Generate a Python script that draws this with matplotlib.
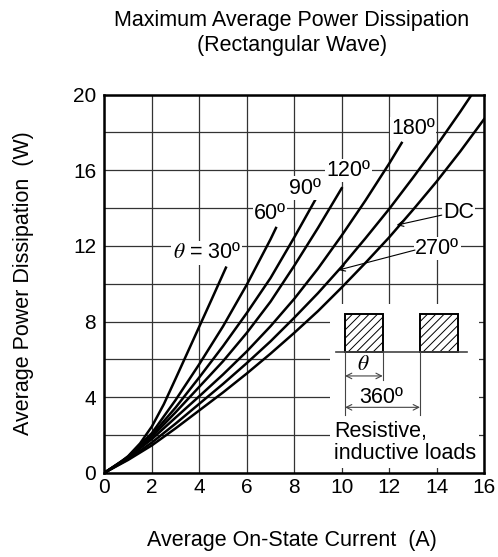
import numpy as np
import matplotlib.pyplot as plt
from matplotlib.patches import Rectangle

plt.rcParams['font.family'] = ['Liberation Sans', 'DejaVu Sans']
plt.rcParams['mathtext.fontset'] = 'stix'
plt.rcParams['hatch.linewidth'] = 0.7

# curves: average on-state current (A) -> power (W)
x30 = [0, 0.5, 1, 1.5, 2, 2.5, 3, 3.5, 4, 4.5, 5.12]
p30 = [0, 0.38, 0.88, 1.55, 2.45, 3.62, 4.98, 6.36, 7.74, 9.12, 10.85]
x60 = [0, 1, 2, 3, 4, 5, 6, 7, 7.23]
p60 = [0, 0.85, 2.1, 3.85, 5.75, 7.75, 9.95, 12.35, 12.95]
x90 = [0, 1, 2, 3, 4, 5, 6, 7, 8, 8.87]
p90 = [0, 0.82, 2.0, 3.45, 5.05, 6.7, 8.45, 10.3, 12.45, 14.4]
x120 = [0, 1, 2, 3, 4, 5, 6, 7, 8, 9, 10]
p120 = [0, 0.8, 1.9, 3.2, 4.55, 5.9, 7.4, 9.05, 10.95, 12.95, 15.05]
x180 = [0, 1, 2, 3, 4, 5, 6, 7, 8, 9, 10, 11, 12, 12.53]
p180 = [0, 0.8, 1.78, 2.92, 4.05, 5.2, 6.42, 7.75, 9.2, 10.8, 12.55, 14.4, 16.35, 17.45]
x270 = [0, 1, 2, 3, 4, 5, 6, 7, 8, 9, 10, 11, 12, 13, 14, 15, 15.48]
p270 = [0, 0.72, 1.6, 2.6, 3.65, 4.7, 5.8, 6.95, 8.2, 9.5, 10.9, 12.4, 13.95, 15.6, 17.3, 19.1, 20.0]
xdc = [0, 1, 2, 3, 4, 5, 6, 7, 8, 9, 10, 11, 12, 13, 14, 15, 16]
pdc = [0, 0.68, 1.45, 2.35, 3.3, 4.25, 5.25, 6.3, 7.4, 8.55, 9.8, 11.1, 12.45, 13.9, 15.4, 17.0, 18.7]

xticks = [0, 2, 4, 6, 8, 10, 12, 14, 16]
yticks = [0, 4, 8, 12, 16, 20]

fs = 15.5

fig = plt.figure(figsize=(4.98, 5.57), dpi=100)
ax = fig.add_axes([0.2098, 0.1513, 0.7621, 0.6787])

for xs, ps in [(x30, p30), (x60, p60), (x90, p90), (x120, p120),
               (x180, p180), (x270, p270), (xdc, pdc)]:
    ax.plot(xs, ps, color='black', lw=1.8, solid_joinstyle='round', zorder=2)

ax.set_xlim(0, 16)
ax.set_ylim(0, 20)
ax.set_xticks(xticks)
ax.set_yticks(yticks)
ax.set_xticks(np.arange(0, 17, 2), minor=True)
ax.set_yticks(np.arange(0, 21, 2), minor=True)
ax.set_axisbelow(True)
ax.grid(which='both', color='#333333', lw=0.9)
ax.tick_params(which='both', length=0, labelsize=15)
ax.tick_params(axis='x', pad=4)
ax.tick_params(axis='y', pad=6)
for s in ax.spines.values():
    s.set_linewidth(1.8)

# curve labels
lab = dict(fontsize=fs, ha='center', va='center', zorder=3,
           bbox=dict(fc='white', ec='none', pad=1.0))
ax.text(4.31, 11.64, r'$\theta$ = 30º', **lab)
ax.text(6.98, 13.72, '60º', **lab)
ax.text(8.45, 15.05, '90º', **lab)
ax.text(10.28, 15.98, '120º', **lab)
ax.text(13.02, 18.2, '180º', **lab)
ax.text(14.92, 13.76, 'DC', **lab)
ax.text(14.03, 11.87, '270º', **lab)
ax.annotate('', xy=(12.32, 13.1), xytext=(14.22, 13.63),
            arrowprops=dict(arrowstyle='->', lw=0.8, shrinkA=0, shrinkB=0), zorder=3)
ax.annotate('', xy=(9.86, 10.72), xytext=(13.09, 11.78),
            arrowprops=dict(arrowstyle='->', lw=0.8, shrinkA=0, shrinkB=0), zorder=3)

# inset: waveform sketch
ax.add_patch(Rectangle((9.5, 0.25), 6.3, 8.65, fc='white', ec='none', zorder=1))
for x0 in [10.14, 13.3]:
    ax.add_patch(Rectangle((x0, 6.4), 1.59, 2.0, fc='white', ec='black',
                           lw=1.4, hatch='////', zorder=2))
ax.plot([9.76, 15.27], [6.4, 6.4], color='#444444', lw=1.2, zorder=2)
ax.plot([10.14, 10.14], [6.4, 3.05], color='#444444', lw=0.8, zorder=2)
ax.plot([11.73, 11.73], [6.4, 4.9], color='#444444', lw=0.8, zorder=2)
ax.plot([13.3, 13.3], [6.4, 3.05], color='#444444', lw=0.8, zorder=2)
ax.annotate('', xy=(10.14, 5.12), xytext=(11.73, 5.12),
            arrowprops=dict(arrowstyle='<->', lw=0.8, shrinkA=0, shrinkB=0,
                            color='#444444'))
ax.annotate('', xy=(10.14, 3.46), xytext=(13.3, 3.46),
            arrowprops=dict(arrowstyle='<->', lw=0.8, shrinkA=0, shrinkB=0,
                            color='#444444'))
ax.text(10.91, 5.75, r'$\theta$', fontsize=fs, ha='center', va='center')
ax.text(11.68, 3.98, '360º', fontsize=fs, ha='center', va='center')
ax.text(9.69, 1.62, 'Resistive,\ninductive loads', fontsize=fs,
        ha='left', va='center', linespacing=1.05)

fig.text(0.586, 0.941, 'Maximum Average Power Dissipation\n(Rectangular Wave)',
         fontsize=fs, ha='center', va='center', linespacing=1.22)
fig.text(0.586, 0.0305, 'Average On-State Current  (A)', fontsize=fs,
         ha='center', va='center')
fig.text(0.047, 0.492, 'Average Power Dissipation  (W)', fontsize=fs,
         ha='center', va='center', rotation=90)

fig.savefig('out.png', dpi=100)
